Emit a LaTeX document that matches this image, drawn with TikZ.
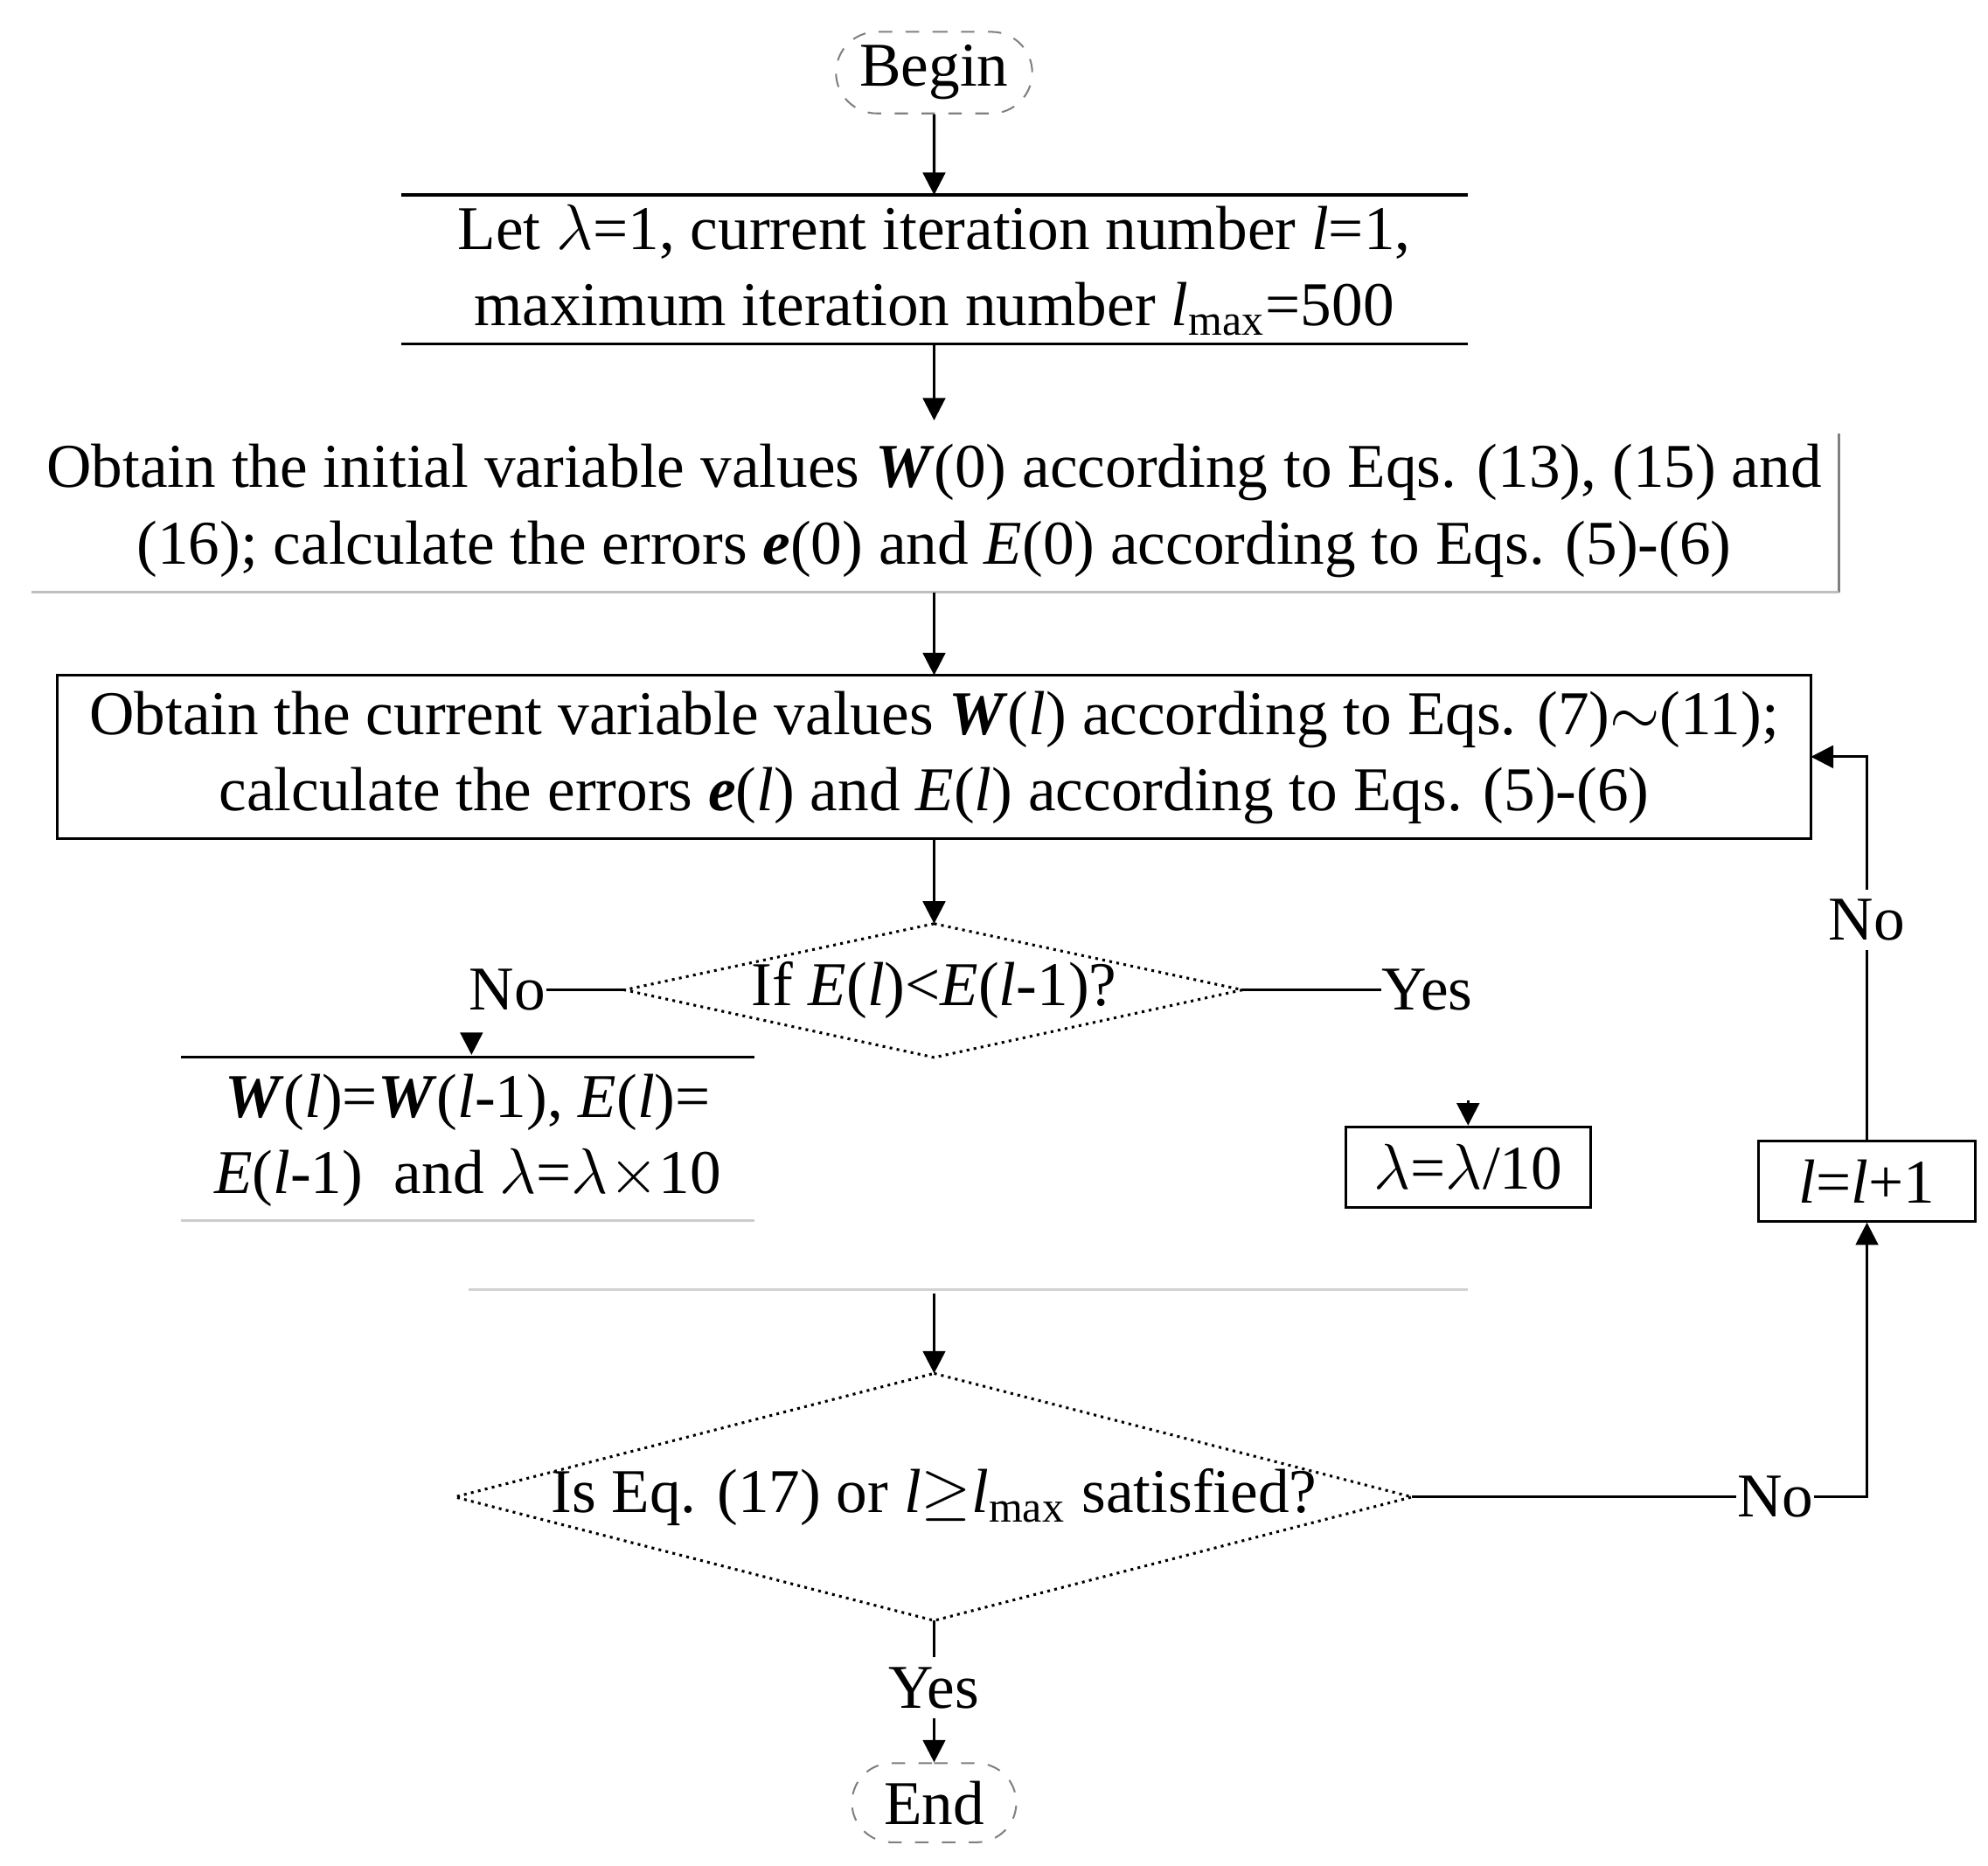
\documentclass[tikz,border=0pt]{standalone}
\usepackage{fontspec}
\setmainfont{Liberation Serif}
\usetikzlibrary{shapes.geometric,shapes.misc,arrows.meta}
\begin{document}
\begin{tikzpicture}[x=0.01cm,y=-0.01cm,
  every node/.style={font=\fontsize{13.9}{17}\selectfont},
  txt/.style={align=center,inner sep=0pt},
  lab/.style={inner sep=2pt},
  arr/.style={-{Triangle[length=5pt,width=5pt]},line width=0.6pt},
  ln/.style={line width=0.6pt},
  term/.style={draw=gray,dashed,rounded rectangle,minimum height=0.62cm,inner sep=3pt},
  dia/.style={draw,densely dotted,line width=0.6pt}]
\useasboundingbox (0,0) rectangle (1560,1464);
% Begin
\node[term,minimum width=1.75cm] (begin) at (733,57) {Begin};
% Box 1
\node[txt] (b1) at (733,212) {Let $\lambda$=1, current iteration number \textit{l}=1,\\maximum iteration number \textit{l}\textsubscript{max}=500};
\draw[ln] (315,153) -- (1152,153) (315,270) -- (1152,270);
\coordinate (b1t) at (733,153); \coordinate (b1b) at (733,270);
\draw[arr] (begin) -- (b1t);
% Box 2
\node[txt] (b2) at (733,401) {Obtain the initial variable values \textbf{\textit{W}}(0) according to Eqs. (13), (15) and\\(16); calculate the errors \textbf{\textit{e}}(0) and \textit{E}(0) according to Eqs. (5)-(6)};
\draw[ln,gray] (1443,340) -- (1443,465);
\draw[ln,gray!50] (25,465) -- (1443,465);
\coordinate (b2t) at (733,330); \coordinate (b2b) at (733,465);
\draw[arr] (b1b) -- (b2t);
% Box 3
\draw[ln] (45,530) rectangle (1421,658);
\node[txt] (b3) at (733,595) {Obtain the current variable values \textbf{\textit{W}}(\textit{l}) according to Eqs. (7)$\sim$(11);\\calculate the errors \textbf{\textit{e}}(\textit{l}) and \textit{E}(\textit{l}) according to Eqs. (5)-(6)};
\coordinate (b3t) at (733,530); \coordinate (b3b) at (733,658); \coordinate (b3r) at (1421,594);
\draw[arr] (b2b) -- (b3t);
% Diamond 1
\coordinate (d1t) at (733,725); \coordinate (d1b) at (733,830);
\coordinate (d1l) at (490,777); \coordinate (d1r) at (975,777);
\draw[dia] (d1t) -- (d1r) -- (d1b) -- (d1l) -- cycle;
\node[txt] (d1) at (733,777) {If \textit{E}(\textit{l})<\textit{E}(\textit{l}-1)?};
\draw[arr] (b3b) -- (d1t);
\node[txt] (no1) at (398,777) {No};
\node[txt] (yes1) at (1120,777) {Yes};
\draw[ln] (no1.east) -- (d1l);
\draw[ln] (d1r) -- (yes1.west);
% Box 4
\draw[ln] (142,830) -- (592,830);
\draw[ln,gray!40] (142,958) -- (592,958);
\node[txt] (b4) at (367,895) {\textbf{\textit{W}}(\textit{l})=\textbf{\textit{W}}(\textit{l}-1), \textit{E}(\textit{l})=\\\textit{E}(\textit{l}-1)\ \ and $\lambda$=$\lambda$$\times$10};
\coordinate (a4s) at (370,812); \coordinate (a4e) at (370,828);
\draw[arr] (a4s) -- (a4e);
% lambda box
\node[draw,ln,txt,minimum width=1.92cm,minimum height=0.63cm] (lam) at (1152,916) {$\lambda$=$\lambda$/10};
\coordinate (a5s) at (1152,864);
\draw[arr] (a5s) -- (lam.north);
% l box
\node[draw,ln,txt,minimum width=1.7cm,minimum height=0.63cm] (lb) at (1465,927) {\textit{l}=\textit{l}+1};
% dotted line
\draw[gray!35,ln] (368,1012) -- (1152,1012);
% Diamond 2
\coordinate (d2t) at (733,1078); \coordinate (d2b) at (733,1272);
\coordinate (d2l) at (357,1175); \coordinate (d2r) at (1108,1175);
\draw[dia] (d2t) -- (d2r) -- (d2b) -- (d2l) -- cycle;
\node[txt] (d2) at (733,1175) {Is Eq. (17) or \textit{l}$\geq$\textit{l}\textsubscript{max} satisfied?};
\coordinate (a6s) at (733,1015);
\draw[arr] (a6s) -- (d2t);
\node[txt] (no2) at (1393,1175) {No};
\draw[ln] (d2r) -- (no2.west);
\coordinate (c1) at (1465,1175);
\draw[arr] (no2.east) -- (c1) -- (lb.south);
\node[lab] (no3) at (1465,722) {No};
\coordinate (c2) at (1465,594);
\draw[ln] (lb.north) -- (no3.south);
\draw[arr] (no3.north) -- (c2) -- (b3r);
% End
\node[lab] (yes2) at (733,1325) {Yes};
\draw[ln] (d2b) -- (yes2.north);
\node[term,minimum width=1.5cm] (end) at (733,1415) {End};
\draw[arr] (yes2.south) -- (end.north);
\end{tikzpicture}
\end{document}
